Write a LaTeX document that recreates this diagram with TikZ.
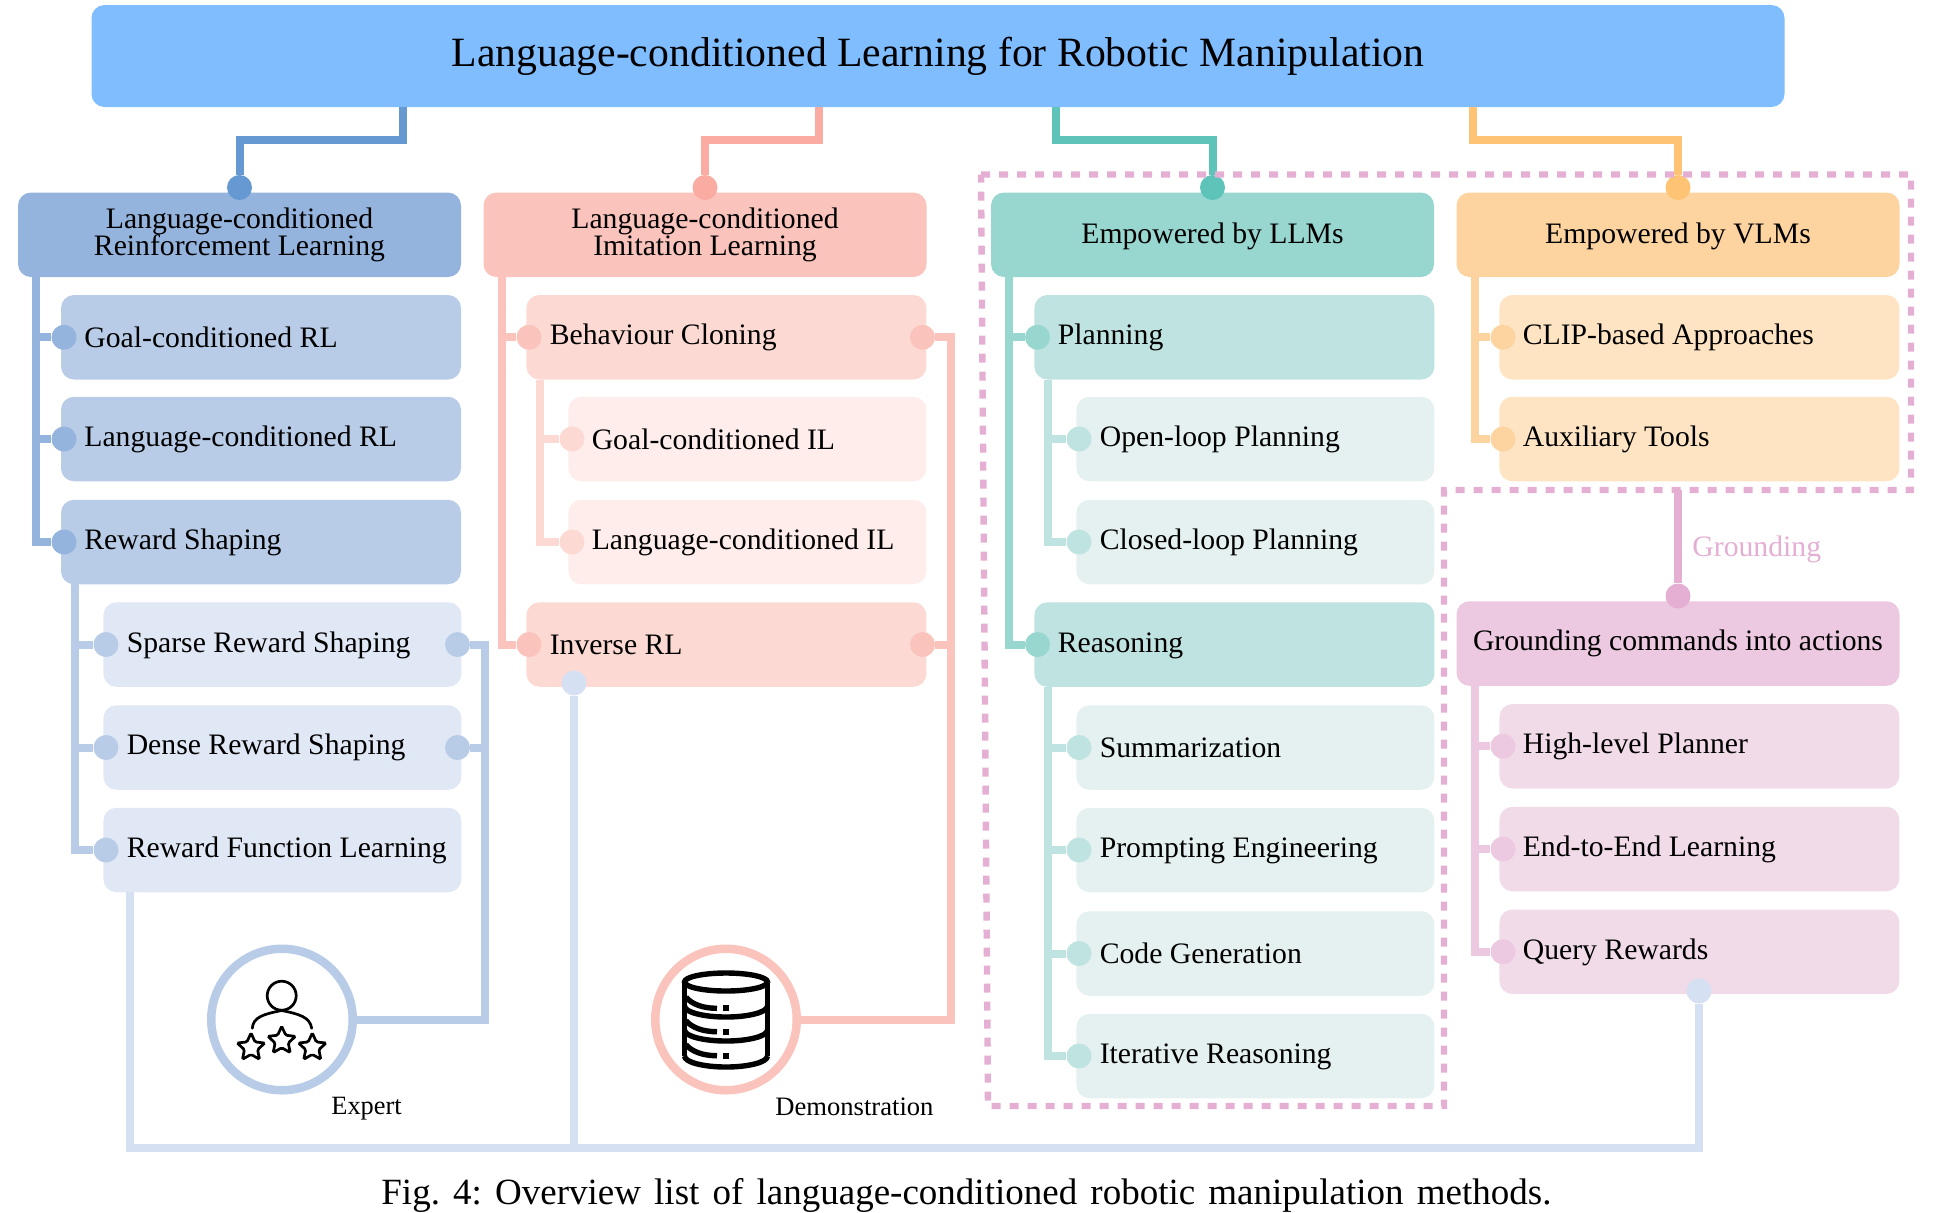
\documentclass[tikz,border=0pt]{standalone}
\usepackage{fontspec}
\setmainfont{Liberation Serif}
\usetikzlibrary{shapes.geometric}

\definecolor{titlecol}{HTML}{7FBDFF}
\definecolor{rlline}{HTML}{6699D1}
\definecolor{rlA}{HTML}{94B3DD}
\definecolor{rlB}{HTML}{B8CCE8}
\definecolor{rlC}{HTML}{E1E8F5}
\definecolor{ilLine}{HTML}{FAABA2}
\definecolor{ilA}{HTML}{FAC3BC}
\definecolor{ilB}{HTML}{FCDAD3}
\definecolor{ilC}{HTML}{FEEDEA}
\definecolor{llmLine}{HTML}{5EC4B9}
\definecolor{llmA}{HTML}{98D6D0}
\definecolor{llmB}{HTML}{BFE3E0}
\definecolor{llmC}{HTML}{E4F1F0}
\definecolor{vlmLine}{HTML}{FEC473}
\definecolor{vlmA}{HTML}{FDD49F}
\definecolor{vlmB}{HTML}{FEE4C2}
\definecolor{gdLine}{HTML}{E4AFD3}
\definecolor{gdA}{HTML}{ECC9E0}
\definecolor{gdB}{HTML}{F1DBE9}
\definecolor{busline}{HTML}{D5E0F2}

\newcommand{\bodyfont}{\fontsize{14.85}{13.5}\selectfont\lineskiplimit=-10pt\relax}

\tikzset{
    drop/.style={text height=12pt, text depth={12pt-#1pt}},
    headbox/.style={rectangle, rounded corners=6.5pt, inner sep=0pt, text width=221.5pt, minimum height=42.25pt, align=flush center, font=\bodyfont},
    subbox/.style={rectangle, rounded corners=6.5pt, inner ysep=0pt, inner xsep=11.7pt, anchor=west, minimum height=42.25pt, align=flush left, font=\bodyfont, drop=7},
    boxA/.style={subbox, text width=176.6pt},
    boxB/.style={subbox, text width=155.6pt},
    dot/.style={circle, inner sep=0pt, minimum size=12.5pt, fill=#1},
    link/.style={line width=4pt, draw=#1},
    ring/.style={circle, draw=#1, fill=white, line width=4.25pt, inner sep=0pt, minimum size=70.75pt},
    starmark/.style={star, star points=5, star point ratio=2.1, draw, line width=1.35pt, rounded corners=0.7pt, inner sep=0pt, minimum size=14.5pt},
    frame/.style={draw=gdLine, line width=3.2pt, dash pattern=on 4.5pt off 4.5pt}
}

\begin{document}
\begin{tikzpicture}[x=0.5pt, y=-0.5pt]
    \useasboundingbox (0,0) rectangle (1955,1212);

    \node[rectangle, rounded corners=6.5pt, fill=titlecol, inner sep=0pt, minimum width=846.5pt, minimum height=51pt, font=\fontsize{20.85}{24}\selectfont, text height=15pt, text depth=5pt] (title) at (938,56) {Language-conditioned Learning for Robotic Manipulation};

    \node[headbox, fill=rlA] (rlhead) at (239.5,234.75) {Language-conditioned\\Reinforcement Learning};
    \node[headbox, fill=ilA] (ilhead) at (705,234.75) {Language-conditioned\\Imitation Learning};
    \node[headbox, fill=llmA, drop=8.5] (llmhead) at (1212.5,234.75) {Empowered by LLMs};
    \node[headbox, fill=vlmA, drop=8.5] (vlmhead) at (1678,234.75) {Empowered by VLMs};
    \node[headbox, fill=gdA, drop=6.5] (gdhead) at (1678,643.5) {Grounding commands into actions};

    \node[boxA, fill=rlB, drop=10] (goalrl) at (60.6,337.25) {Goal-conditioned RL};
    \node[boxA, fill=rlB, drop=7.5] (langrl) at (60.6,439) {Language-conditioned RL};
    \node[boxA, fill=rlB, drop=7.5] (rewshape) at (60.6,542) {Reward Shaping};
    \node[boxB, fill=rlC, drop=7.5] (sparse) at (103,644.5) {Sparse Reward Shaping};
    \node[boxB, fill=rlC, drop=6.5] (dense) at (103,747.5) {Dense Reward Shaping};
    \node[boxB, fill=rlC] (rewfunc) at (103,850) {\mbox{Reward Function Learning}};

    \node[boxA, fill=ilB] (bc) at (526,337.25) {Behaviour Cloning};
    \node[boxB, fill=ilC, drop=10.5] (goalil) at (568,439) {Goal-conditioned IL};
    \node[boxB, fill=ilC] (langil) at (568,542) {\mbox{Language-conditioned IL}};
    \node[boxA, fill=ilB, drop=9.5] (irl) at (526,644.5) {Inverse RL};

    \node[boxA, fill=llmB] (plan) at (1034,337.25) {Planning};
    \node[boxB, fill=llmC, drop=7.5] (openloop) at (1076,439) {Open-loop Planning};
    \node[boxB, fill=llmC, drop=7.5] (closedloop) at (1076,542) {Closed-loop Planning};
    \node[boxA, fill=llmB, drop=7.5] (reason) at (1034,644.5) {Reasoning};
    \node[boxB, fill=llmC, drop=9.5] (summ) at (1076,747.5) {Summarization};
    \node[boxB, fill=llmC] (prompt) at (1076,850) {Prompting Engineering};
    \node[boxB, fill=llmC, drop=9.5] (codegen) at (1076,953.5) {Code Generation};
    \node[boxB, fill=llmC] (iter) at (1076,1056) {Iterative Reasoning};

    \node[boxA, fill=vlmB] (clip) at (1499,337.25) {CLIP-based Approaches};
    \node[boxA, fill=vlmB, drop=7.5] (aux) at (1499,439) {Auxiliary Tools};

    \node[boxA, fill=gdB] (high) at (1499,746.25) {High-level Planner};
    \node[boxA, fill=gdB] (endtoend) at (1499,849) {End-to-End Learning};
    \node[boxA, fill=gdB, drop=8] (query) at (1499,951.75) {Query Rewards};

    \node[dot=rlline] (drl) at (239.5,187.5) {};
    \node[dot=ilLine] (dil) at (705,187.5) {};
    \node[dot=llmLine] (dllm) at (1212.5,187.5) {};
    \node[dot=vlmLine] (dvlm) at (1678,187.5) {};
    \node[dot=gdLine] (dgd) at (1678,596) {};

    \node[dot=rlA] (dgoalrl) at (64,337.25) {};
    \node[dot=rlA] (dlangrl) at (64,439) {};
    \node[dot=rlA] (drewshape) at (64,542) {};
    \node[dot=rlB] (dsparse) at (106,644.5) {};
    \node[dot=rlB] (ddense) at (106,747.5) {};
    \node[dot=rlB] (drewfunc) at (106,850) {};
    \node[dot=rlB] (osparse) at (457.5,644.5) {};
    \node[dot=rlB] (odense) at (457.5,747.5) {};

    \node[dot=ilA] (dbc) at (529,337.25) {};
    \node[dot=ilA] (dirl) at (529,644.5) {};
    \node[dot=ilB] (dgoalil) at (572,439) {};
    \node[dot=ilB] (dlangil) at (572,542) {};
    \node[dot=ilA] (obc) at (922.5,337.25) {};
    \node[dot=ilA] (oirl) at (922.5,644.5) {};
    \node[dot=busline] (birl) at (574,683) {};

    \node[dot=llmA] (dplan) at (1037.5,337.25) {};
    \node[dot=llmA] (dreason) at (1037.5,644.5) {};
    \node[dot=llmB] (dopen) at (1079,439) {};
    \node[dot=llmB] (dclosed) at (1079,542) {};
    \node[dot=llmB] (dsumm) at (1079,747.5) {};
    \node[dot=llmB] (dprompt) at (1079,850) {};
    \node[dot=llmB] (dcode) at (1079,953.5) {};
    \node[dot=llmB] (diter) at (1079,1056) {};

    \node[dot=vlmA] (dclip) at (1503,337.25) {};
    \node[dot=vlmA] (daux) at (1503,439) {};
    \node[dot=gdA] (dhigh) at (1503,746.25) {};
    \node[dot=gdA] (dend) at (1503,849) {};
    \node[dot=gdA] (dquery) at (1503,951.75) {};
    \node[dot=busline] (bquery) at (1699,991) {};

    \node[ring=rlB] (expert) at (282,1019.5) {};
    \node[ring=ilA] (demo) at (726,1019.5) {};

    \coordinate (trl) at (402.5,107);
    \coordinate (til) at (819,107);
    \coordinate (tllm) at (1056,107);
    \coordinate (tvlm) at (1473,107);
    \coordinate (srl) at (36,277);
    \coordinate (sil) at (502,277);
    \coordinate (sllm) at (1009,277);
    \coordinate (svlm) at (1475,277);
    \coordinate (sgd) at (1475,685.5);
    \coordinate (sshape) at (74.5,584);
    \coordinate (sbc) at (540,379.5);
    \coordinate (splan) at (1047.5,379.5);
    \coordinate (sreason) at (1047.5,687);
    \coordinate (ebend) at (484.5,1019.5);
    \coordinate (dbend) at (950.5,1019.5);
    \coordinate (srew) at (129.5,892);
    \coordinate (buscorner) at (129.5,1148);
    \coordinate (gtop) at (1678,490);

    \draw[link=rlline] (trl) -- ++(0,33) -| (drl);
    \draw[link=ilLine] (til) -- ++(0,33) -| (dil);
    \draw[link=llmLine] (tllm) -- ++(0,33) -| (dllm);
    \draw[link=vlmLine] (tvlm) -- ++(0,33) -| (dvlm);

    \foreach \d in {dgoalrl, dlangrl, drewshape} \draw[link=rlA] (srl) |- (\d);
    \foreach \d in {dsparse, ddense, drewfunc} \draw[link=rlB] (sshape) |- (\d);
    \foreach \d in {dbc, dirl} \draw[link=ilA] (sil) |- (\d);
    \foreach \d in {dgoalil, dlangil} \draw[link=ilB] (sbc) |- (\d);
    \foreach \d in {dplan, dreason} \draw[link=llmA] (sllm) |- (\d);
    \foreach \d in {dopen, dclosed} \draw[link=llmB] (splan) |- (\d);
    \foreach \d in {dsumm, dprompt, dcode, diter} \draw[link=llmB] (sreason) |- (\d);
    \foreach \d in {dclip, daux} \draw[link=vlmA] (svlm) |- (\d);
    \foreach \d in {dhigh, dend, dquery} \draw[link=gdA] (sgd) |- (\d);

    \draw[link=rlB] (osparse) -| (ebend) -- (expert);
    \draw[link=rlB] (odense) -- (odense -| ebend);
    \draw[link=ilA] (obc) -| (dbend) -- (demo);
    \draw[link=ilA] (oirl) -- (oirl -| dbend);
    \draw[link=busline] (srew) -- (buscorner) -| (bquery);
    \draw[link=busline] (birl) -- (birl |- buscorner);
    \draw[link=gdLine] (gtop) -- (dgd);

    \draw[frame] (981,174.5) -- (1911,174.5) -- (1911,490) -- (1444,490) -- (1444,1106) -- (988,1106) -- cycle;

    \node[anchor=base west, inner sep=0pt, text=gdLine, font=\bodyfont] (glabel) at (1692,556) {Grounding};
    \node[anchor=base west, inner sep=0pt, font=\fontsize{13.2}{15}\selectfont] (elabel) at (331,1114.5) {Expert};
    \node[anchor=base west, inner sep=0pt, font=\fontsize{13.3}{15}\selectfont] (dlabel) at (775,1115) {Demonstration};
    \node[anchor=base west, inner sep=0pt, font=\fontsize{18.5}{20}\selectfont\frenchspacing] (caption) at (381,1204) {\makebox[585pt][s]{Fig. 4: Overview list of language-conditioned robotic manipulation methods.}};

    \draw[line width=1.35pt, line cap=round] (281.7,995.7) circle [radius=7.25pt];
    \draw[line width=1.35pt, line cap=round] (252.3,1028.3) .. controls (253,1017) and (264,1014) .. (281.7,1010.5) .. controls (299,1014) and (310,1017) .. (311.7,1028.3);
    \foreach \n/\px/\py in {a/251/1047.5, b/281.7/1040.8, c/312.3/1047.5}
        \node[starmark] (star\n) at (\px,\py) {};

    \draw[line width=2.7pt] (684.5,982) -- (684.5,1056) (767.5,982) -- (767.5,1056);
    \draw[line width=2.7pt] (726,982) ellipse [x radius=20.75pt, y radius=4.5pt];
    \foreach \yb in {1006, 1030, 1056}
        \draw[line width=2.7pt] (684.5,\yb) arc [start angle=180, end angle=360, x radius=20.75pt, y radius=5.5pt];
    \foreach \yb in {1008.3, 1031.7, 1055.7} {
        \draw[line width=2.7pt] (686,\yb-11) .. controls (692,\yb-4) and (703,\yb) .. (717,\yb);
        \fill (723,\yb-3) rectangle (729,\yb+3);
    }
\end{tikzpicture}
\end{document}
